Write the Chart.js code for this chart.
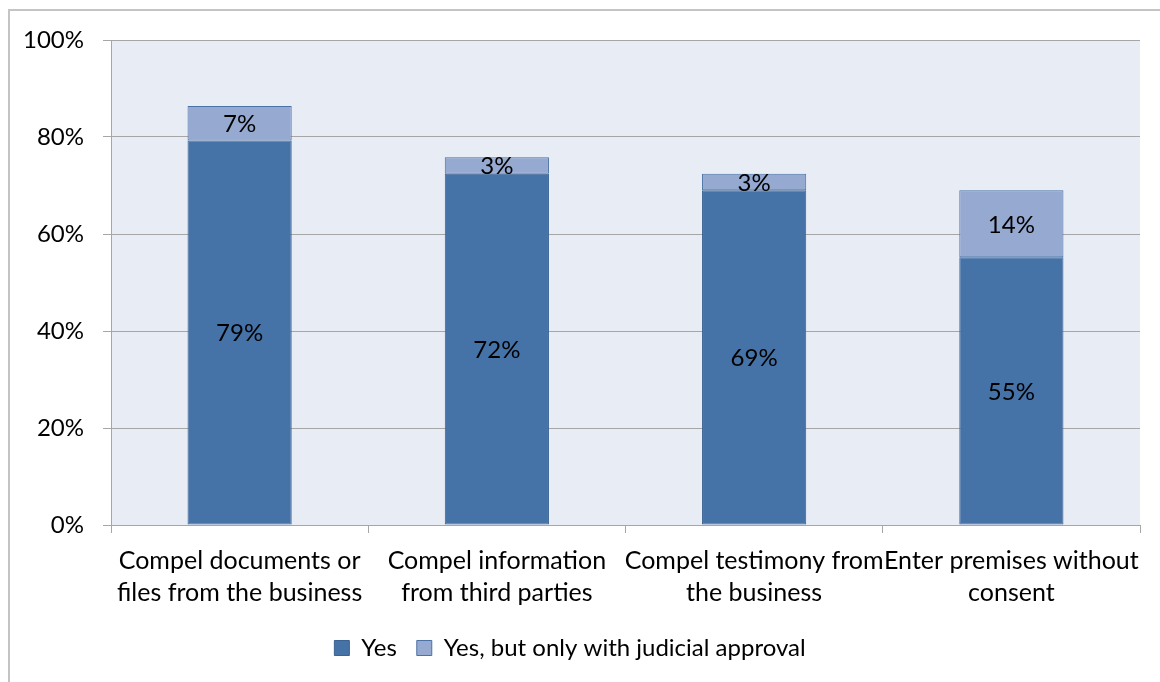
<!DOCTYPE html>
<html>
<head>
<meta charset="utf-8">
<script src="https://cdn.jsdelivr.net/npm/chart.js@4"></script>
<style>
  html, body { margin: 0; padding: 0; background: #fff; }
  #wrap { width: 1160px; height: 682px; }
</style>
</head>
<body>
<div id="wrap"><canvas id="chart" width="1160" height="682"></canvas></div>
<script>
// Categories (multi-line labels, as in the original)
const categories = [
    ['Compel documents or', 'files from the business'],
    ['Compel information', 'from third parties'],
    ['Compel testimony from', 'the business'],
    ['Enter premises without', 'consent']
];
const seriesNames = ['Yes', 'Yes, but only with judicial approval'];
// Values in percent
const yesValues = [79.3, 72.4, 69.0, 55.2];
const judicialValues = [7.1, 3.4, 3.4, 13.8];
const yTicks = [0, 20, 40, 60, 80, 100];

const FONT = 'Lato, "Open Sans", sans-serif';

// background, outer frame and plot-area fill
const framePlugin = {
    id: 'frame',
    beforeDraw(chart) {
        const ctx = chart.ctx;
        const area = chart.chartArea;
        ctx.save();
        ctx.fillStyle = '#ffffff';
        ctx.fillRect(0, 0, chart.width, chart.height);
        ctx.strokeStyle = '#c4c4c4';
        ctx.lineWidth = 2;
        ctx.beginPath();
        ctx.moveTo(9, chart.height);
        ctx.lineTo(9, 10);
        ctx.lineTo(chart.width, 10);
        ctx.stroke();
        ctx.fillStyle = '#e8ecf4';
        ctx.fillRect(area.left, area.top, area.right - area.left, area.bottom - area.top);
        ctx.restore();
    }
};

// value labels centred in each segment
const barLabels = {
    id: 'barLabels',
    afterDatasetsDraw(chart) {
        const ctx = chart.ctx;
        ctx.save();
        ctx.font = '24px ' + FONT;
        ctx.fillStyle = '#000';
        ctx.textAlign = 'center';
        ctx.textBaseline = 'middle';
        chart.data.datasets.forEach((ds, i) => {
            chart.getDatasetMeta(i).data.forEach((bar, j) => {
                const p = bar.getProps(['x', 'y', 'base'], true);
                ctx.fillText(Math.round(ds.data[j]) + '%', p.x, (p.y + p.base) / 2 + 1);
            });
        });
        ctx.restore();
    }
};

new Chart(document.getElementById('chart'), {
    type: 'bar',
    data: {
        labels: categories,
        datasets: [
            {
                label: seriesNames[0],
                data: yesValues,
                backgroundColor: '#4572a7',
                borderColor: '#3a6292',
                borderWidth: 1,
                borderSkipped: false
            },
            {
                label: seriesNames[1],
                data: judicialValues,
                backgroundColor: '#95a9d1',
                borderColor: '#4a72a6',
                borderWidth: 1,
                borderSkipped: false
            }
        ]
    },
    options: {
        responsive: false,
        animation: false,
        devicePixelRatio: 1,
        categoryPercentage: 1,
        barPercentage: 0.405,
        layout: { padding: { left: 0, top: 40, right: 20, bottom: 12 } },
        scales: {
            x: {
                stacked: true,
                grid: { drawOnChartArea: false, drawTicks: true, tickLength: 8, color: '#a6a6a6', offset: true },
                border: { color: '#a6a6a6' },
                ticks: { color: '#000', font: { family: FONT, size: 25, lineHeight: 1.28 }, padding: 12, maxRotation: 0, autoSkip: false },
                afterFit(s) { s.height = 91; }
            },
            y: {
                stacked: true,
                min: 0,
                max: 100,
                afterBuildTicks(s) { s.ticks = yTicks.map(v => ({ value: v })); },
                grid: { color: '#a6a6a6', tickLength: 8 },
                border: { color: '#a6a6a6' },
                ticks: { color: '#000', font: { family: FONT, size: 24 }, padding: 19, callback: v => v + '%' },
                afterFit(s) { s.width = 111; }
            }
        },
        plugins: {
            legend: {
                position: 'bottom',
                labels: {
                    color: '#000',
                    font: { family: FONT, size: 24 },
                    boxWidth: 15,
                    boxHeight: 15,
                    padding: 20
                }
            },
            tooltip: { enabled: false }
        }
    },
    plugins: [framePlugin, barLabels]
});
</script>
</body>
</html>
